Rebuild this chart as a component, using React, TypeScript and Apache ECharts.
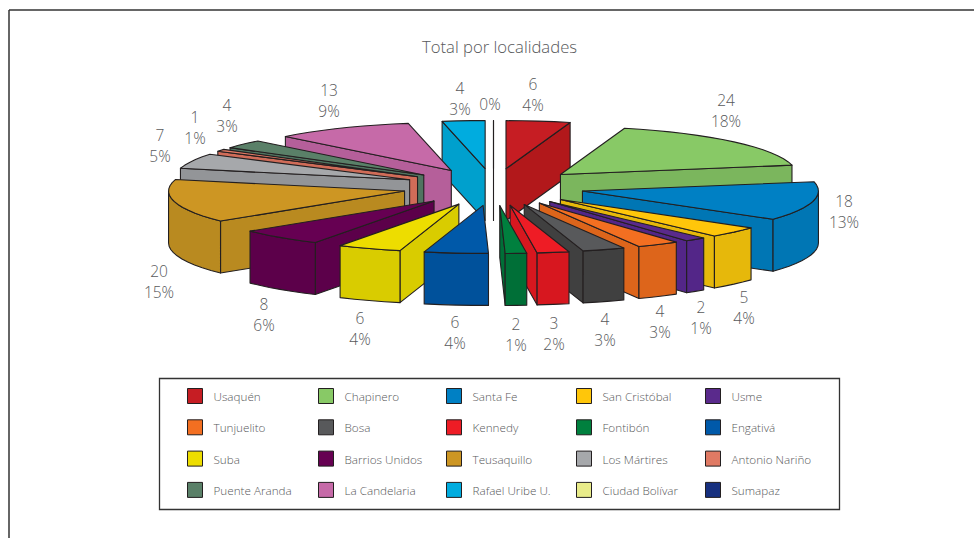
import React, { useEffect, useRef } from "react";
import * as echarts from "echarts";

const titleText = "Total por localidades";
const categories = [
  "Usaquén", "Chapinero", "Santa Fe", "San Cristóbal", "Usme",
  "Tunjuelito", "Bosa", "Kennedy", "Fontibón", "Engativá",
  "Suba", "Barrios Unidos", "Teusaquillo", "Los Mártires", "Antonio Nariño",
  "Puente Aranda", "La Candelaria", "Rafael Uribe U.", "Ciudad Bolívar", "Sumapaz",
];
// Sumapaz has no slice and no label in the reference: only a legend entry.
const values: (number | null)[] = [6, 24, 18, 5, 2, 4, 4, 3, 2, 6, 6, 8, 20, 7, 1, 4, 13, 4, 0, null];
const topColors = [
  "#c61d23", "#88c966", "#0080c4", "#ffc60a", "#5a2a8c",
  "#f36f21", "#58595b", "#ee1c25", "#00803e", "#0059a9",
  "#eddd00", "#660052", "#cd9623", "#a6a8ab", "#e07a64",
  "#5a8068", "#c66aa8", "#00acdf", "#e9ec8a", "#17307f",
];
const sideColors = [
  "#b2181b", "#7bb65d", "#0076b4", "#e6b80b", "#532688",
  "#dd651b", "#404040", "#d7171f", "#006f37", "#00519b",
  "#d9cc00", "#5c004a", "#b98a20", "#939598", "#d06c58",
  "#507460", "#b55f9a", "#00a0cd", "#d8db7a", "#14296e",
];
const labelNudges = [
  [-5, -27], [-8, -32], [31, 10], [10, 75], [6, 78],
  [2, 77], [1, 79], [1, 81], [0, 81], [-1, 79],
  [-9, 79], [-16, 77], [-15, 80], [-32, -16], [-26, -23],
  [-16, -29], [-13, -28], [-4, -23], [-3, -16], [0, 0],
];

const CX = 493.5, CY = 187, RX = 236, RY = 48, EXPLODE = 0.386, DEPTH = 52;
const INK = "#231f20", TEXT = "#58595b";
const FONT = "Open Sans";
const STROKE = 1.1;
const LEGEND_X = [187, 318, 446, 576, 705];
const LEGEND_ROWS = 4;

const total = values.reduce((s: number, v) => s + (v || 0), 0) as number;
const rad = (d: number) => (d * Math.PI) / 180;

function sliceRange(i: number) {
  let before = 0;
  for (let k = 0; k < i; k++) before += values[k] || 0;
  const v = values[i] || 0;
  return [(before / total) * 360, ((before + v) / total) * 360];
}

function renderSlice(i: number) {
  const v = values[i];
  if (v === null) return null;
  const [a0, a1] = sliceRange(i);
  const m = (a0 + a1) / 2;
  const tx = CX + EXPLODE * RX * Math.sin(rad(m));
  const ty = CY - EXPLODE * RY * Math.cos(rad(m));
  const pt = (a: number, drop = 0): number[] => [tx + RX * Math.sin(rad(a)), ty - RY * Math.cos(rad(a)) + drop];
  const arc = (from: number, to: number, drop = 0) => {
    const n = Math.max(1, Math.ceil((to - from) / 4));
    const out: number[][] = [];
    for (let k = 0; k <= n; k++) out.push(pt(from + ((to - from) * k) / n, drop));
    return out;
  };
  const poly = (points: number[][], fill: string) => ({
    type: "polygon",
    shape: { points },
    style: { fill, stroke: INK, lineWidth: STROKE, lineJoin: "round" },
    silent: true,
  });
  const children: any[] = [];
  const side = sideColors[i];
  const tip = [tx, ty];
  const tipLow = [tx, ty + DEPTH];
  const wall = (a: number) => poly([tip, pt(a), pt(a, DEPTH), tipLow], side);
  if (Math.sin(rad(a0)) < 0 || v === 0) children.push(wall(a0));
  if (Math.sin(rad(a1)) > 0) children.push(wall(a1));
  const from = Math.max(a0, 90), to = Math.min(a1, 270);
  if (to > from) children.push(poly([...arc(from, to), ...arc(from, to, DEPTH).reverse()], side));
  children.push(poly([tip, ...arc(a0, a1)], topColors[i]));
  const base = [CX + (1 + EXPLODE) * RX * Math.sin(rad(m)), CY - (1 + EXPLODE) * RY * Math.cos(rad(m))];
  const pct = Math.round((v / total) * 100);
  children.push({
    type: "text",
    x: Math.round(base[0] + labelNudges[i][0]),
    y: Math.round(base[1] + labelNudges[i][1]),
    silent: true,
    style: {
      text: v === 0 ? `${pct}%` : `${v}\n${pct}%`,
      fill: TEXT,
      fontFamily: FONT,
      fontSize: 15.5,
      fontWeight: 300,
      lineHeight: 21,
      align: "center",
      verticalAlign: "middle",
    },
  });
  return { type: "group", children };
}

function backToFrontRank(i: number) {
  const [a0, a1] = sliceRange(i);
  return 1 - Math.cos(rad((a0 + a1) / 2));
}

function buildOption() {
  const legend = LEGEND_X.map((x, c) => ({
    orient: "vertical",
    left: x,
    top: 388,
    padding: 0,
    itemWidth: 15,
    itemHeight: 15,
    itemGap: 15.3,
    selectedMode: false,
    icon: "rect",
    textStyle: { color: TEXT, fontFamily: FONT, fontSize: 11.7, fontWeight: 300, padding: [0, 0, 0, 6] },
    data: categories
      .map((name, i) => ({
        name,
        i,
        itemStyle: { color: topColors[i], borderColor: INK, borderWidth: 1, opacity: 1 },
      }))
      .filter((d) => d.i % LEGEND_X.length === c)
      .slice(0, LEGEND_ROWS)
      .map(({ name, itemStyle }) => ({ name, itemStyle })),
  }));
  return {
    animation: false,
    backgroundColor: "#ffffff",
    title: {
      text: titleText,
      left: 494.5,
      top: 33,
      textAlign: "center",
      textStyle: { color: TEXT, fontFamily: FONT, fontSize: 16.7, fontWeight: 300 },
    },
    legend,
    graphic: [
      { type: "line", shape: { x1: 9, y1: 10, x2: 974, y2: 10 }, style: { stroke: "#333333", lineWidth: 1.5 }, silent: true },
      { type: "line", shape: { x1: 9, y1: 10, x2: 9, y2: 538 }, style: { stroke: "#333333", lineWidth: 1.5 }, silent: true },
      { type: "rect", shape: { x: 159.5, y: 378.5, width: 680, height: 131 }, style: { fill: "none", stroke: "#333333", lineWidth: 1.3 }, silent: true },
    ],
    series: categories.map((name, i) => ({
      type: "custom",
      name,
      coordinateSystem: "none",
      silent: true,
      z: 2 + backToFrontRank(i),
      data: [[i]],
      itemStyle: { color: topColors[i] },
      renderItem: () => renderSlice(i),
    })),
  };
}

export default function App() {
  const ref = useRef<HTMLDivElement | null>(null);
  useEffect(() => {
    document.body.style.margin = "0";
    const chart = echarts.init(ref.current as HTMLDivElement, null, { renderer: "svg" });
    chart.setOption(buildOption() as any);
    return () => chart.dispose();
  }, []);
  return <div ref={ref} style={{ width: 974, height: 538, willChange: "opacity" }} />;
}
